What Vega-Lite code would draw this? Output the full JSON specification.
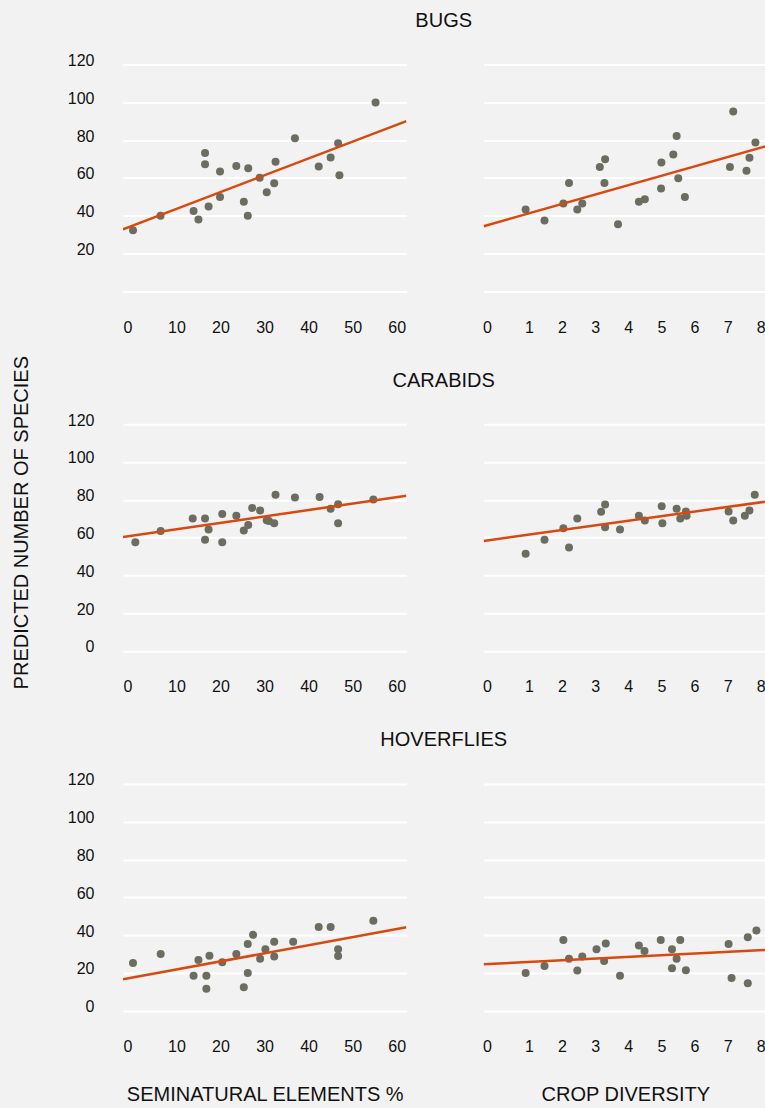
{
  "$schema": "https://vega.github.io/schema/vega-lite/v6.json",
  "background": "#f2f2f2",
  "padding": {"left": 10, "top": 10.5, "right": 0, "bottom": 20},
  "config": {
    "font": "Liberation Sans",
    "view": {"stroke": null},
    "axis": {"domain": false, "ticks": false, "tickSize": 0, "labelFontSize": 16, "labelColor": "#111111", "titleFontSize": 20, "titleFontWeight": "normal", "titleColor": "#111111", "labelOverlap": false, "labelFlush": false},
    "axisX": {"grid": false, "labelPadding": 28, "titlePadding": 30},
    "axisY": {"grid": true, "gridColor": "#ffffff", "gridWidth": 2, "gridOpacity": 1, "labelPadding": 29, "labelOffset": -4},
    "title": {"fontSize": 20, "fontWeight": "normal", "color": "#111111", "anchor": "middle", "frame": "group", "offset": 22}
  },
  "datasets": {
    "points": [
      {"taxon": "BUGS", "factor": "semi", "x": 0.15, "y": 32.3},
      {"taxon": "BUGS", "factor": "semi", "x": 6.4, "y": 39.9},
      {"taxon": "BUGS", "factor": "semi", "x": 13.9, "y": 42.4},
      {"taxon": "BUGS", "factor": "semi", "x": 15.0, "y": 37.9},
      {"taxon": "BUGS", "factor": "semi", "x": 16.5, "y": 73.2},
      {"taxon": "BUGS", "factor": "semi", "x": 16.5, "y": 67.2},
      {"taxon": "BUGS", "factor": "semi", "x": 17.3, "y": 44.8},
      {"taxon": "BUGS", "factor": "semi", "x": 19.9, "y": 63.3},
      {"taxon": "BUGS", "factor": "semi", "x": 19.9, "y": 49.9},
      {"taxon": "BUGS", "factor": "semi", "x": 23.6, "y": 66.3},
      {"taxon": "BUGS", "factor": "semi", "x": 25.3, "y": 47.3},
      {"taxon": "BUGS", "factor": "semi", "x": 26.2, "y": 39.9},
      {"taxon": "BUGS", "factor": "semi", "x": 26.3, "y": 65.1},
      {"taxon": "BUGS", "factor": "semi", "x": 28.9, "y": 60.0},
      {"taxon": "BUGS", "factor": "semi", "x": 30.5, "y": 52.4},
      {"taxon": "BUGS", "factor": "semi", "x": 32.2, "y": 57.2},
      {"taxon": "BUGS", "factor": "semi", "x": 32.5, "y": 68.5},
      {"taxon": "BUGS", "factor": "semi", "x": 36.9, "y": 81.0},
      {"taxon": "BUGS", "factor": "semi", "x": 42.3, "y": 66.0},
      {"taxon": "BUGS", "factor": "semi", "x": 45.0, "y": 70.8},
      {"taxon": "BUGS", "factor": "semi", "x": 46.7, "y": 78.3},
      {"taxon": "BUGS", "factor": "semi", "x": 47.0, "y": 61.4},
      {"taxon": "BUGS", "factor": "semi", "x": 55.2, "y": 99.9},
      {"taxon": "BUGS", "factor": "crop", "x": 0.90, "y": 43.2},
      {"taxon": "BUGS", "factor": "crop", "x": 1.47, "y": 37.4},
      {"taxon": "BUGS", "factor": "crop", "x": 2.04, "y": 46.4},
      {"taxon": "BUGS", "factor": "crop", "x": 2.21, "y": 57.3},
      {"taxon": "BUGS", "factor": "crop", "x": 2.46, "y": 43.2},
      {"taxon": "BUGS", "factor": "crop", "x": 2.61, "y": 46.4},
      {"taxon": "BUGS", "factor": "crop", "x": 3.14, "y": 65.8},
      {"taxon": "BUGS", "factor": "crop", "x": 3.30, "y": 69.9},
      {"taxon": "BUGS", "factor": "crop", "x": 3.28, "y": 57.3},
      {"taxon": "BUGS", "factor": "crop", "x": 3.69, "y": 35.5},
      {"taxon": "BUGS", "factor": "crop", "x": 4.32, "y": 47.3},
      {"taxon": "BUGS", "factor": "crop", "x": 4.50, "y": 48.7},
      {"taxon": "BUGS", "factor": "crop", "x": 5.00, "y": 68.1},
      {"taxon": "BUGS", "factor": "crop", "x": 4.99, "y": 54.3},
      {"taxon": "BUGS", "factor": "crop", "x": 5.36, "y": 72.3},
      {"taxon": "BUGS", "factor": "crop", "x": 5.46, "y": 82.2},
      {"taxon": "BUGS", "factor": "crop", "x": 5.51, "y": 59.8},
      {"taxon": "BUGS", "factor": "crop", "x": 5.71, "y": 49.9},
      {"taxon": "BUGS", "factor": "crop", "x": 7.17, "y": 95.1},
      {"taxon": "BUGS", "factor": "crop", "x": 7.07, "y": 65.8},
      {"taxon": "BUGS", "factor": "crop", "x": 7.57, "y": 63.7},
      {"taxon": "BUGS", "factor": "crop", "x": 7.66, "y": 70.6},
      {"taxon": "BUGS", "factor": "crop", "x": 7.84, "y": 78.7},
      {"taxon": "CARABIDS", "factor": "semi", "x": 0.68, "y": 57.5},
      {"taxon": "CARABIDS", "factor": "semi", "x": 6.43, "y": 63.5},
      {"taxon": "CARABIDS", "factor": "semi", "x": 13.7, "y": 70.1},
      {"taxon": "CARABIDS", "factor": "semi", "x": 16.5, "y": 70.1},
      {"taxon": "CARABIDS", "factor": "semi", "x": 16.5, "y": 58.9},
      {"taxon": "CARABIDS", "factor": "semi", "x": 17.3, "y": 64.2},
      {"taxon": "CARABIDS", "factor": "semi", "x": 20.4, "y": 72.5},
      {"taxon": "CARABIDS", "factor": "semi", "x": 20.4, "y": 57.5},
      {"taxon": "CARABIDS", "factor": "semi", "x": 23.6, "y": 71.5},
      {"taxon": "CARABIDS", "factor": "semi", "x": 25.3, "y": 63.7},
      {"taxon": "CARABIDS", "factor": "semi", "x": 26.3, "y": 66.7},
      {"taxon": "CARABIDS", "factor": "semi", "x": 27.2, "y": 75.7},
      {"taxon": "CARABIDS", "factor": "semi", "x": 29.0, "y": 74.3},
      {"taxon": "CARABIDS", "factor": "semi", "x": 30.5, "y": 69.2},
      {"taxon": "CARABIDS", "factor": "semi", "x": 31.0, "y": 68.8},
      {"taxon": "CARABIDS", "factor": "semi", "x": 32.2, "y": 67.6},
      {"taxon": "CARABIDS", "factor": "semi", "x": 32.5, "y": 82.6},
      {"taxon": "CARABIDS", "factor": "semi", "x": 36.9, "y": 81.2},
      {"taxon": "CARABIDS", "factor": "semi", "x": 42.5, "y": 81.5},
      {"taxon": "CARABIDS", "factor": "semi", "x": 45.0, "y": 75.3},
      {"taxon": "CARABIDS", "factor": "semi", "x": 46.7, "y": 77.6},
      {"taxon": "CARABIDS", "factor": "semi", "x": 46.7, "y": 67.6},
      {"taxon": "CARABIDS", "factor": "semi", "x": 54.7, "y": 80.1},
      {"taxon": "CARABIDS", "factor": "crop", "x": 0.90, "y": 51.4},
      {"taxon": "CARABIDS", "factor": "crop", "x": 1.47, "y": 58.9},
      {"taxon": "CARABIDS", "factor": "crop", "x": 2.04, "y": 64.9},
      {"taxon": "CARABIDS", "factor": "crop", "x": 2.21, "y": 54.7},
      {"taxon": "CARABIDS", "factor": "crop", "x": 2.46, "y": 70.1},
      {"taxon": "CARABIDS", "factor": "crop", "x": 3.18, "y": 73.6},
      {"taxon": "CARABIDS", "factor": "crop", "x": 3.30, "y": 77.5},
      {"taxon": "CARABIDS", "factor": "crop", "x": 3.30, "y": 65.5},
      {"taxon": "CARABIDS", "factor": "crop", "x": 3.75, "y": 64.2},
      {"taxon": "CARABIDS", "factor": "crop", "x": 4.32, "y": 71.5},
      {"taxon": "CARABIDS", "factor": "crop", "x": 4.50, "y": 69.0},
      {"taxon": "CARABIDS", "factor": "crop", "x": 5.01, "y": 76.6},
      {"taxon": "CARABIDS", "factor": "crop", "x": 5.03, "y": 67.6},
      {"taxon": "CARABIDS", "factor": "crop", "x": 5.46, "y": 75.3},
      {"taxon": "CARABIDS", "factor": "crop", "x": 5.57, "y": 70.1},
      {"taxon": "CARABIDS", "factor": "crop", "x": 5.74, "y": 73.8},
      {"taxon": "CARABIDS", "factor": "crop", "x": 5.76, "y": 71.5},
      {"taxon": "CARABIDS", "factor": "crop", "x": 7.03, "y": 73.8},
      {"taxon": "CARABIDS", "factor": "crop", "x": 7.17, "y": 69.0},
      {"taxon": "CARABIDS", "factor": "crop", "x": 7.52, "y": 71.5},
      {"taxon": "CARABIDS", "factor": "crop", "x": 7.66, "y": 74.3},
      {"taxon": "CARABIDS", "factor": "crop", "x": 7.82, "y": 82.6},
      {"taxon": "HOVERFLIES", "factor": "semi", "x": 0.15, "y": 25.2},
      {"taxon": "HOVERFLIES", "factor": "semi", "x": 6.43, "y": 30.0},
      {"taxon": "HOVERFLIES", "factor": "semi", "x": 13.9, "y": 18.5},
      {"taxon": "HOVERFLIES", "factor": "semi", "x": 15.0, "y": 26.8},
      {"taxon": "HOVERFLIES", "factor": "semi", "x": 16.8, "y": 18.5},
      {"taxon": "HOVERFLIES", "factor": "semi", "x": 16.8, "y": 11.5},
      {"taxon": "HOVERFLIES", "factor": "semi", "x": 17.5, "y": 29.1},
      {"taxon": "HOVERFLIES", "factor": "semi", "x": 20.4, "y": 25.6},
      {"taxon": "HOVERFLIES", "factor": "semi", "x": 23.6, "y": 30.0},
      {"taxon": "HOVERFLIES", "factor": "semi", "x": 25.3, "y": 12.4},
      {"taxon": "HOVERFLIES", "factor": "semi", "x": 26.2, "y": 35.3},
      {"taxon": "HOVERFLIES", "factor": "semi", "x": 26.2, "y": 19.9},
      {"taxon": "HOVERFLIES", "factor": "semi", "x": 27.4, "y": 40.1},
      {"taxon": "HOVERFLIES", "factor": "semi", "x": 29.0, "y": 27.5},
      {"taxon": "HOVERFLIES", "factor": "semi", "x": 30.2, "y": 32.5},
      {"taxon": "HOVERFLIES", "factor": "semi", "x": 32.2, "y": 36.4},
      {"taxon": "HOVERFLIES", "factor": "semi", "x": 32.2, "y": 28.6},
      {"taxon": "HOVERFLIES", "factor": "semi", "x": 36.5, "y": 36.4},
      {"taxon": "HOVERFLIES", "factor": "semi", "x": 42.3, "y": 44.3},
      {"taxon": "HOVERFLIES", "factor": "semi", "x": 45.0, "y": 44.3},
      {"taxon": "HOVERFLIES", "factor": "semi", "x": 46.7, "y": 32.5},
      {"taxon": "HOVERFLIES", "factor": "semi", "x": 46.7, "y": 28.9},
      {"taxon": "HOVERFLIES", "factor": "semi", "x": 54.7, "y": 47.5},
      {"taxon": "HOVERFLIES", "factor": "crop", "x": 0.90, "y": 19.9},
      {"taxon": "HOVERFLIES", "factor": "crop", "x": 1.47, "y": 23.6},
      {"taxon": "HOVERFLIES", "factor": "crop", "x": 2.04, "y": 37.4},
      {"taxon": "HOVERFLIES", "factor": "crop", "x": 2.21, "y": 27.4},
      {"taxon": "HOVERFLIES", "factor": "crop", "x": 2.46, "y": 21.2},
      {"taxon": "HOVERFLIES", "factor": "crop", "x": 2.61, "y": 28.6},
      {"taxon": "HOVERFLIES", "factor": "crop", "x": 3.04, "y": 32.5},
      {"taxon": "HOVERFLIES", "factor": "crop", "x": 3.32, "y": 35.5},
      {"taxon": "HOVERFLIES", "factor": "crop", "x": 3.27, "y": 26.3},
      {"taxon": "HOVERFLIES", "factor": "crop", "x": 3.75, "y": 18.4},
      {"taxon": "HOVERFLIES", "factor": "crop", "x": 4.32, "y": 34.4},
      {"taxon": "HOVERFLIES", "factor": "crop", "x": 4.49, "y": 31.6},
      {"taxon": "HOVERFLIES", "factor": "crop", "x": 4.98, "y": 37.4},
      {"taxon": "HOVERFLIES", "factor": "crop", "x": 5.32, "y": 32.5},
      {"taxon": "HOVERFLIES", "factor": "crop", "x": 5.46, "y": 27.4},
      {"taxon": "HOVERFLIES", "factor": "crop", "x": 5.32, "y": 22.4},
      {"taxon": "HOVERFLIES", "factor": "crop", "x": 5.57, "y": 37.4},
      {"taxon": "HOVERFLIES", "factor": "crop", "x": 5.74, "y": 21.4},
      {"taxon": "HOVERFLIES", "factor": "crop", "x": 7.03, "y": 35.3},
      {"taxon": "HOVERFLIES", "factor": "crop", "x": 7.12, "y": 17.3},
      {"taxon": "HOVERFLIES", "factor": "crop", "x": 7.61, "y": 38.8},
      {"taxon": "HOVERFLIES", "factor": "crop", "x": 7.61, "y": 14.5},
      {"taxon": "HOVERFLIES", "factor": "crop", "x": 7.87, "y": 42.4}
    ],
    "trends": [
      {"taxon": "BUGS", "factor": "semi", "x": -2.12, "y": 32.8},
      {"taxon": "BUGS", "factor": "semi", "x": 62.2, "y": 90.0},
      {"taxon": "BUGS", "factor": "crop", "x": -0.37, "y": 34.4},
      {"taxon": "BUGS", "factor": "crop", "x": 8.19, "y": 76.9},
      {"taxon": "CARABIDS", "factor": "semi", "x": -2.12, "y": 60.3},
      {"taxon": "CARABIDS", "factor": "semi", "x": 62.2, "y": 82.1},
      {"taxon": "CARABIDS", "factor": "crop", "x": -0.37, "y": 58.2},
      {"taxon": "CARABIDS", "factor": "crop", "x": 8.19, "y": 79.1},
      {"taxon": "HOVERFLIES", "factor": "semi", "x": -2.12, "y": 16.6},
      {"taxon": "HOVERFLIES", "factor": "semi", "x": 62.2, "y": 44.1},
      {"taxon": "HOVERFLIES", "factor": "crop", "x": -0.37, "y": 24.5},
      {"taxon": "HOVERFLIES", "factor": "crop", "x": 8.19, "y": 32.1}
    ]
  },
  "columns": 2,
  "spacing": {"row": 132.7, "column": 76.6},
  "bounds": "flush",
  "concat": [
    {
      "width": 283.4, "height": 226.7,
      "title": {"text": "BUGS", "dx": 179},
      "encoding": {
        "x": {"field": "x", "type": "quantitative", "scale": {"domain": [-2.12, 62.2], "nice": false, "zero": false}, "axis": {"values": [0, 10, 20, 30, 40, 50, 60], "labelOffset": {"condition": {"test": "datum.value === 0", "value": -5}, "value": 0}, "title": null}},
        "y": {"field": "y", "type": "quantitative", "scale": {"domain": [0, 120], "nice": false}, "axis": {"values": [0, 20, 40, 60, 80, 100, 120], "labelExpr": "datum.value === 0 ? '' : datum.label", "title": null}}
      },
      "layer": [
        {"data": {"name": "points"}, "transform": [{"filter": "datum.taxon === 'BUGS' && datum.factor === 'semi'"}], "mark": {"type": "circle", "size": 64, "color": "#6b6d60", "opacity": 1}},
        {"data": {"name": "trends"}, "transform": [{"filter": "datum.taxon === 'BUGS' && datum.factor === 'semi'"}], "mark": {"type": "line", "color": "#d9480f", "strokeWidth": 2.5, "clip": true}}
      ]
    },
    {
      "width": 283.4, "height": 226.7,
      "encoding": {
        "x": {"field": "x", "type": "quantitative", "scale": {"domain": [-0.37, 8.19], "nice": false, "zero": false}, "axis": {"values": [0, 1, 2, 3, 4, 5, 6, 7, 8], "labelOffset": {"condition": {"test": "datum.value === 0", "value": -9}, "value": 0}, "title": null}},
        "y": {"field": "y", "type": "quantitative", "scale": {"domain": [0, 120], "nice": false}, "axis": {"values": [0, 20, 40, 60, 80, 100, 120], "labels": false, "title": null}}
      },
      "layer": [
        {"data": {"name": "points"}, "transform": [{"filter": "datum.taxon === 'BUGS' && datum.factor === 'crop'"}], "mark": {"type": "circle", "size": 64, "color": "#6b6d60", "opacity": 1}},
        {"data": {"name": "trends"}, "transform": [{"filter": "datum.taxon === 'BUGS' && datum.factor === 'crop'"}], "mark": {"type": "line", "color": "#d9480f", "strokeWidth": 2.5, "clip": true}}
      ]
    },
    {
      "width": 283.4, "height": 226.7,
      "title": {"text": "CARABIDS", "dx": 179, "dy": 57},
      "encoding": {
        "x": {"field": "x", "type": "quantitative", "scale": {"domain": [-2.12, 62.2], "nice": false, "zero": false}, "axis": {"values": [0, 10, 20, 30, 40, 50, 60], "labelOffset": {"condition": {"test": "datum.value === 0", "value": -5}, "value": 0}, "title": null}},
        "y": {"field": "y", "type": "quantitative", "scale": {"domain": [0, 120], "nice": false}, "axis": {"values": [0, 20, 40, 60, 80, 100, 120], "title": "PREDICTED NUMBER OF SPECIES", "titleAngle": 270, "titleX": -102, "titleY": 98, "titleAlign": "center", "titleBaseline": "middle"}}
      },
      "layer": [
        {"data": {"name": "points"}, "transform": [{"filter": "datum.taxon === 'CARABIDS' && datum.factor === 'semi'"}], "mark": {"type": "circle", "size": 64, "color": "#6b6d60", "opacity": 1}},
        {"data": {"name": "trends"}, "transform": [{"filter": "datum.taxon === 'CARABIDS' && datum.factor === 'semi'"}], "mark": {"type": "line", "color": "#d9480f", "strokeWidth": 2.5, "clip": true}}
      ]
    },
    {
      "width": 283.4, "height": 226.7,
      "encoding": {
        "x": {"field": "x", "type": "quantitative", "scale": {"domain": [-0.37, 8.19], "nice": false, "zero": false}, "axis": {"values": [0, 1, 2, 3, 4, 5, 6, 7, 8], "labelOffset": {"condition": {"test": "datum.value === 0", "value": -9}, "value": 0}, "title": null}},
        "y": {"field": "y", "type": "quantitative", "scale": {"domain": [0, 120], "nice": false}, "axis": {"values": [0, 20, 40, 60, 80, 100, 120], "labels": false, "title": null}}
      },
      "layer": [
        {"data": {"name": "points"}, "transform": [{"filter": "datum.taxon === 'CARABIDS' && datum.factor === 'crop'"}], "mark": {"type": "circle", "size": 64, "color": "#6b6d60", "opacity": 1}},
        {"data": {"name": "trends"}, "transform": [{"filter": "datum.taxon === 'CARABIDS' && datum.factor === 'crop'"}], "mark": {"type": "line", "color": "#d9480f", "strokeWidth": 2.5, "clip": true}}
      ]
    },
    {
      "width": 283.4, "height": 226.7,
      "title": {"text": "HOVERFLIES", "dx": 179},
      "encoding": {
        "x": {"field": "x", "type": "quantitative", "scale": {"domain": [-2.12, 62.2], "nice": false, "zero": false}, "axis": {"values": [0, 10, 20, 30, 40, 50, 60], "labelOffset": {"condition": {"test": "datum.value === 0", "value": -5}, "value": 0}, "title": "SEMINATURAL ELEMENTS %"}},
        "y": {"field": "y", "type": "quantitative", "scale": {"domain": [0, 120], "nice": false}, "axis": {"values": [0, 20, 40, 60, 80, 100, 120], "title": null}}
      },
      "layer": [
        {"data": {"name": "points"}, "transform": [{"filter": "datum.taxon === 'HOVERFLIES' && datum.factor === 'semi'"}], "mark": {"type": "circle", "size": 64, "color": "#6b6d60", "opacity": 1}},
        {"data": {"name": "trends"}, "transform": [{"filter": "datum.taxon === 'HOVERFLIES' && datum.factor === 'semi'"}], "mark": {"type": "line", "color": "#d9480f", "strokeWidth": 2.5, "clip": true}}
      ]
    },
    {
      "width": 283.4, "height": 226.7,
      "encoding": {
        "x": {"field": "x", "type": "quantitative", "scale": {"domain": [-0.37, 8.19], "nice": false, "zero": false}, "axis": {"values": [0, 1, 2, 3, 4, 5, 6, 7, 8], "labelOffset": {"condition": {"test": "datum.value === 0", "value": -9}, "value": 0}, "title": "CROP DIVERSITY"}},
        "y": {"field": "y", "type": "quantitative", "scale": {"domain": [0, 120], "nice": false}, "axis": {"values": [0, 20, 40, 60, 80, 100, 120], "labels": false, "title": null}}
      },
      "layer": [
        {"data": {"name": "points"}, "transform": [{"filter": "datum.taxon === 'HOVERFLIES' && datum.factor === 'crop'"}], "mark": {"type": "circle", "size": 64, "color": "#6b6d60", "opacity": 1}},
        {"data": {"name": "trends"}, "transform": [{"filter": "datum.taxon === 'HOVERFLIES' && datum.factor === 'crop'"}], "mark": {"type": "line", "color": "#d9480f", "strokeWidth": 2.5, "clip": true}}
      ]
    }
  ]
}
